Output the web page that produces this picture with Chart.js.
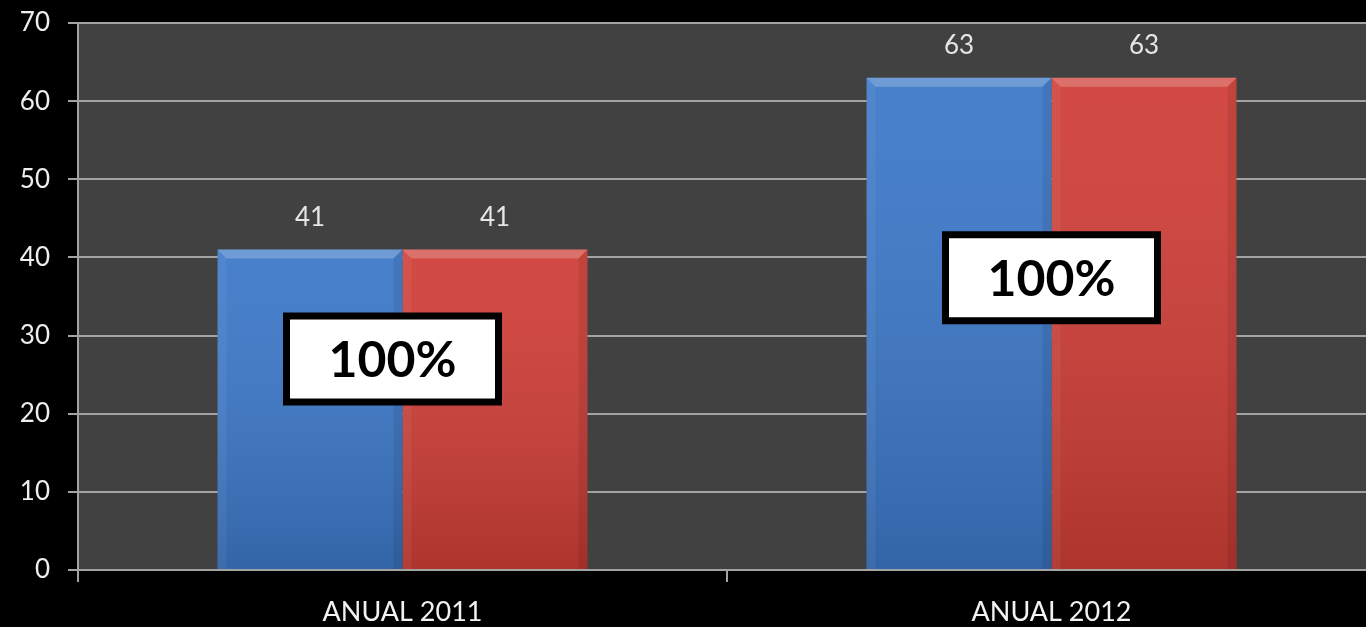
<!DOCTYPE html>
<html>
<head>
<meta charset="utf-8">
<script src="https://cdn.jsdelivr.net/npm/chart.js@4"></script>
<style>
  html, body { margin: 0; padding: 0; background: #000; overflow: hidden; }
  .wrap { width: 1376px; height: 627px; position: relative; }
</style>
</head>
<body>
<div class="wrap"><canvas id="chart"></canvas></div>
<script>
// chart data
const categories = ['ANUAL 2011', 'ANUAL 2012'];
const seriesBlue = [41, 63];
const seriesRed = [41, 63];
const yTicks = [0, 10, 20, 30, 40, 50, 60, 70];
const boxLabels = ['100%', '100%'];

const GRID = '#a3a3a3';
const FONT = 'Lato, "Open Sans", sans-serif';

// dark gray plot background
const plotBg = {
  id: 'plotBg',
  beforeDraw(chart) {
    const { ctx, chartArea: a } = chart;
    ctx.save();
    ctx.fillStyle = '#414141';
    ctx.fillRect(a.left, a.top, a.right - a.left, a.bottom - a.top);
    ctx.restore();
  }
};

// shading + bevel on each bar, value labels on top
const barLook = {
  id: 'barLook',
  afterDatasetsDraw(chart) {
    const ctx = chart.ctx;
    chart.data.datasets.forEach((ds, di) => {
      chart.getDatasetMeta(di).data.forEach((bar, i) => {
        const l = bar.x - bar.width / 2, r = bar.x + bar.width / 2;
        const t = bar.y, b = bar.base, bv = 9;
        ctx.save();
        const g = ctx.createLinearGradient(0, t, 0, b);
        g.addColorStop(0, 'rgba(255,255,255,0.06)');
        g.addColorStop(1, 'rgba(0,0,0,0.16)');
        ctx.fillStyle = g;
        ctx.fillRect(l, t, r - l, b - t);
        // top bevel
        ctx.fillStyle = 'rgba(255,255,255,0.22)';
        ctx.beginPath();
        ctx.moveTo(l, t); ctx.lineTo(r, t); ctx.lineTo(r - bv, t + bv); ctx.lineTo(l + bv, t + bv);
        ctx.closePath(); ctx.fill();
        // side bevels
        ctx.fillStyle = 'rgba(255,255,255,0.05)';
        ctx.beginPath();
        ctx.moveTo(l, t); ctx.lineTo(l + bv, t + bv); ctx.lineTo(l + bv, b); ctx.lineTo(l, b);
        ctx.closePath(); ctx.fill();
        ctx.fillStyle = 'rgba(0,0,0,0.08)';
        ctx.beginPath();
        ctx.moveTo(r, t); ctx.lineTo(r - bv, t + bv); ctx.lineTo(r - bv, b); ctx.lineTo(r, b);
        ctx.closePath(); ctx.fill();
        // value label
        ctx.fillStyle = '#e6e6e6';
        ctx.font = '26px ' + FONT;
        ctx.textAlign = 'center';
        ctx.textBaseline = 'middle';
        ctx.fillText(ds.data[i], bar.x, t - 32);
        ctx.restore();
      });
    });
  }
};

// white "100%" boxes over each group
const boxes = {
  id: 'boxes',
  afterDatasetsDraw(chart, args, opts) {
    const { ctx, scales } = chart;
    boxLabels.forEach((txt, i) => {
      const cx = scales.x.getPixelForValue(i) + opts.dx[i];
      const cy = scales.y.getPixelForValue(opts.at[i]);
      const w = 212, h = 86;
      ctx.save();
      ctx.fillStyle = '#fff';
      ctx.strokeStyle = '#000';
      ctx.lineWidth = 7;
      ctx.fillRect(cx - w / 2, cy - h / 2, w, h);
      ctx.strokeRect(cx - w / 2, cy - h / 2, w, h);
      ctx.fillStyle = '#000';
      ctx.font = 'bold 50px ' + FONT;
      ctx.textAlign = 'center';
      ctx.textBaseline = 'middle';
      ctx.fillText(txt, cx, cy + 2);
      ctx.restore();
    });
  }
};

new Chart(document.getElementById('chart'), {
  type: 'bar',
  data: {
    labels: categories,
    datasets: [
      { label: 'A', data: seriesBlue, backgroundColor: '#3c78c8' },
      { label: 'B', data: seriesRed, backgroundColor: '#cf3e37' }
    ]
  },
  options: {
    responsive: true,
    maintainAspectRatio: false,
    animation: false,
    layout: { padding: { top: 23, left: 0, right: 0, bottom: 0 } },
    barPercentage: 1,
    categoryPercentage: 0.57,
    plugins: {
      legend: { display: false },
      tooltip: { enabled: false },
      boxes: { at: [27.0, 37.4], dx: [-10, 0] }
    },
    scales: {
      y: {
        min: 0,
        max: 70,
        afterBuildTicks: s => { s.ticks = yTicks.map(v => ({ value: v })); },
        afterFit: s => { s.width = 78; s.paddingTop = 0; s.paddingBottom = 0; },
        ticks: { color: '#eeeeee', font: { family: FONT, size: 26 }, padding: 18 },
        grid: { color: GRID, lineWidth: 2, tickLength: 10 },
        border: { color: GRID, width: 2 }
      },
      x: {
        afterFit: s => { s.height = 57; s.paddingLeft = 0; s.paddingRight = 0; },
        ticks: { color: '#f2f2f2', font: { family: FONT, size: 27 }, padding: 14 },
        grid: { drawOnChartArea: false, color: GRID, lineWidth: 2, tickLength: 12 },
        border: { color: GRID, width: 2 }
      }
    }
  },
  plugins: [plotBg, barLook, boxes]
});
</script>
</body>
</html>
